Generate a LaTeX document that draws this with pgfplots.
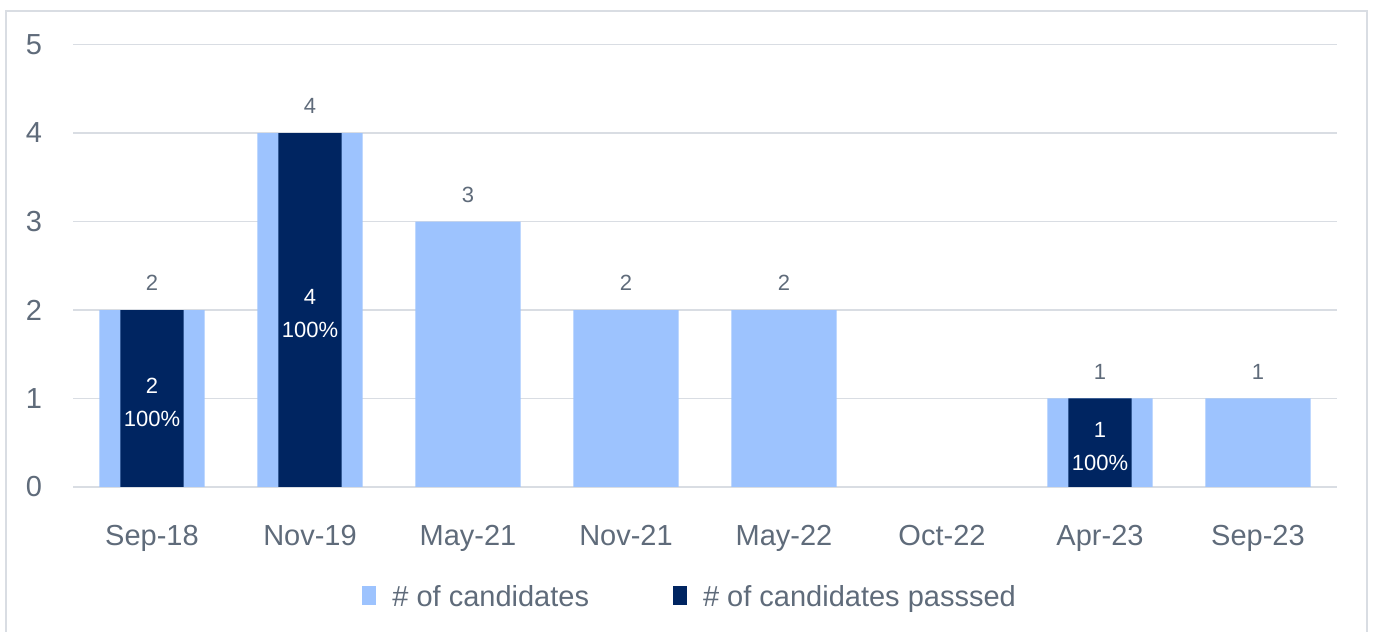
\documentclass[border=0pt]{standalone}
\usepackage{fontspec}
\setmainfont{Liberation Sans}
\usepackage{pgfplots}
\pgfplotsset{compat=1.18}
\definecolor{lightbar}{HTML}{9DC3FE}
\definecolor{darkbar}{HTML}{002561}
\definecolor{txt}{HTML}{5F6B7A}
\definecolor{gridc}{HTML}{D9DDE3}
\begin{document}
\begin{tikzpicture}[x=1pt,y=1pt]
\useasboundingbox (0,0) rectangle (686.5,316);
\draw[gridc, line width=0.8pt] (3,-10) rectangle (683.5,310.5);
\begin{axis}[
  at={(36.5pt,72.5pt)}, anchor=south west,
  scale only axis, width=632pt, height=221.25pt,
  xmin=-0.5, xmax=7.5, ymin=0, ymax=5,
  /pgf/number format/assume math mode=true,
  axis line style={draw=none},
  ytick={0,1,2,3,4,5}, ymajorgrids, grid style={gridc, line width=0.8pt},
  xtick={0,1,2,3,4,5,6,7},
  xticklabels={Sep-18,Nov-19,May-21,Nov-21,May-22,Oct-22,Apr-23,Sep-23},
  major tick length=0pt,
  tick label style={font=\fontsize{14.5}{17}\selectfont, text=txt},
  xticklabel style={yshift=-15.5pt},
  yticklabel style={xshift=-12pt},
  legend style={at={(0.489,-0.249)}, anchor=center, draw=none, fill=none,
    legend columns=2, font=\fontsize{14.5}{17}\selectfont, text=txt,
    /tikz/every even column/.append style={column sep=40pt},
    /tikz/every odd column/.append style={column sep=6pt},
    legend cell align=left, inner sep=0pt},
  legend image code/.code={\fill[#1] (0pt,-4pt) rectangle (7pt,5.5pt);},
]
\addplot[ybar, bar shift=0pt, bar width=0.665, fill=lightbar, draw=none,
  nodes near coords, point meta=y,
  nodes near coords style={font=\fontsize{11}{13}\selectfont, text=txt, yshift=6pt}]
  coordinates {(0,2) (1,4) (2,3) (3,2) (4,2) (6,1) (7,1)};
\addlegendentry{\# of candidates}
\addplot[ybar, bar shift=0pt, bar width=0.4, fill=darkbar, draw=none]
  coordinates {(0,2) (1,4) (6,1)};
\addlegendentry{\# of candidates passsed}
\addplot[draw=none, mark=none, forget plot, point meta=explicit,
  nodes near coords={\pgfmathprintnumber{\pgfplotspointmeta}\\100\%},
  nodes near coords style={anchor=center, align=center, text=white,
    font=\fontsize{11}{16.5}\selectfont, yshift=-2pt}]
  coordinates {(0,1) [2] (1,2) [4] (6,0.5) [1]};
\end{axis}
\end{tikzpicture}
\end{document}
